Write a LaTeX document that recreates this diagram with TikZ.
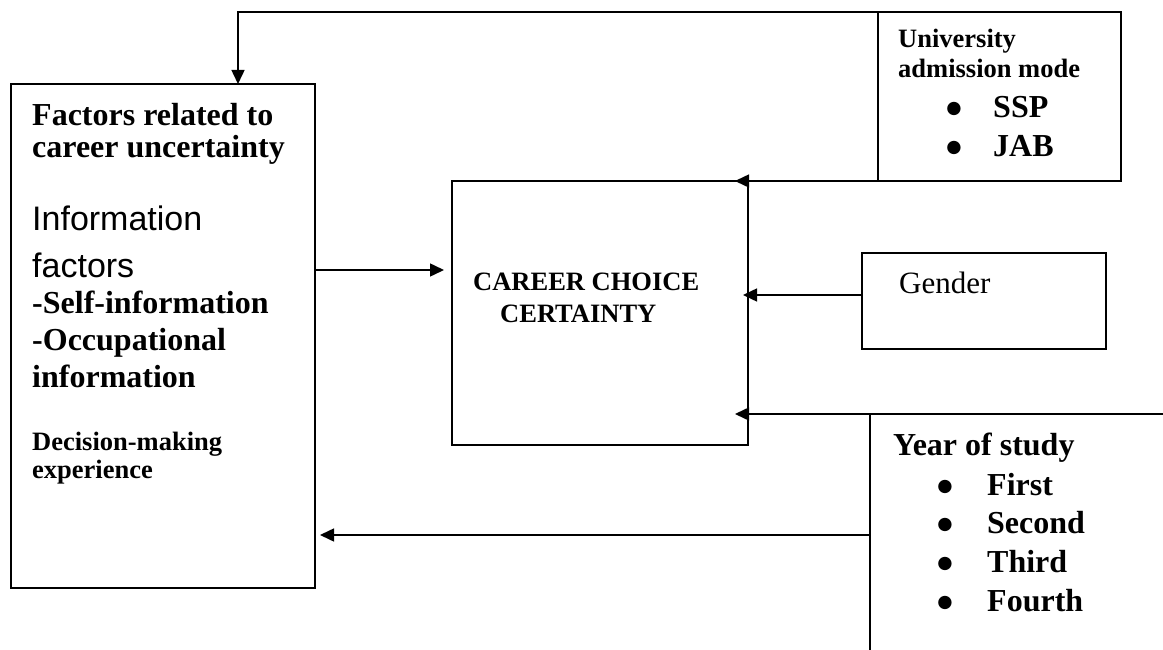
\documentclass[tikz,border=0pt]{standalone}
\usepackage{fontspec}
\setmainfont{Liberation Serif}
\newfontfamily\arialf{Liberation Sans}
\newfontfamily\dejavuf{DejaVu Sans}
\usetikzlibrary{arrows.meta}
\begin{document}
\begin{tikzpicture}[x=1pt,y=-1pt,
  box/.style={draw,line width=1.5pt,rectangle,inner sep=0pt,outer sep=0pt,anchor=north west},
  arr/.style={line width=1.5pt,-{Triangle[length=14pt,width=13pt]}},
  txt/.style={anchor=base west,inner sep=0pt},
  big/.style={font=\fontsize{32}{37}\selectfont\bfseries},
  mid/.style={font=\fontsize{26.5}{30}\selectfont\bfseries},
  sans/.style={font=\fontsize{34}{40}\selectfont\arialf},
  reg/.style={font=\fontsize{31}{36}\selectfont},
  bul/.style={anchor=base,inner sep=0pt,font=\fontsize{17.5}{19}\selectfont\dejavuf}
]
\useasboundingbox (0,0) rectangle (1163,650);

% boxes
\node[box,minimum width=304pt,minimum height=504pt] (left) at (11,84) {};
\node[box,minimum width=296pt,minimum height=264pt] (cc) at (452,181) {};
\node[box,minimum width=243pt,minimum height=169pt] (univ) at (878,12) {};
\node[box,minimum width=244pt,minimum height=96pt] (gen) at (862,253) {};
\coordinate (yr) at (870,414);
\coordinate (yrb) at (870,655);
\coordinate (yrr) at (1168,414);
\draw[line width=1.5pt] (yrb) -- (yr) -- (yrr);

% connector end points
\coordinate (topc) at (238,12);
\coordinate (ut) at (735,181);
\coordinate (ls) at (315,270);
\coordinate (lt) at (444,270);
\coordinate (gs) at (862,295);
\coordinate (gt) at (743,295);
\coordinate (yt) at (735,414);
\coordinate (ys) at (870,535);
\coordinate (ylt) at (320,535);

% connectors
\draw[arr] (univ.north west) -- (topc) -- (topc |- left.north);
\draw[arr] (univ.south west) -- (ut);
\draw[arr] (ls) -- (lt);
\draw[arr] (gs) -- (gt);
\draw[arr] (yr) -- (yt);
\draw[arr] (ys) -- (ylt);

% left box text
\node[txt,big] (l1) at (32,126) {Factors related to};
\node[txt,big] (l2) at (32,158) {career uncertainty};
\node[txt,sans] (l3) at (32,230) {Information};
\node[txt,sans] (l4) at (32,277) {factors};
\node[txt,big] (l5) at (32,313) {-Self-information};
\node[txt,big] (l6) at (32,350) {-Occupational};
\node[txt,big] (l7) at (32,387) {information};
\node[txt,mid] (l8) at (32,450) {Decision-making};
\node[txt,mid] (l9) at (32,478) {experience};

% centre text
\node[txt,mid] (c1) at (473,290) {CAREER CHOICE};
\node[txt,mid] (c2) at (500,322) {CERTAINTY};

% university text
\node[txt,mid] (u1) at (898,48) {University};
\node[txt,mid] (u2) at (898,78) {admission mode};
\node[bul] (ub1) at (954,114) {●};
\node[txt,big] (u3) at (993,118) {SSP};
\node[bul] (ub2) at (954,153) {●};
\node[txt,big] (u4) at (993,157) {JAB};

% gender
\node[txt,reg] (g1) at (899,293) {Gender};

% year of study
\node[txt,big] (y0) at (893,455) {Year of study};
\node[bul] (yb1) at (945,491) {●};
\node[txt,big] (y1) at (987,495) {First};
\node[bul] (yb2) at (945,529) {●};
\node[txt,big] (y2) at (987,533) {Second};
\node[bul] (yb3) at (945,568) {●};
\node[txt,big] (y3) at (987,572) {Third};
\node[bul] (yb4) at (945,607) {●};
\node[txt,big] (y4) at (987,611) {Fourth};
\end{tikzpicture}
\end{document}
